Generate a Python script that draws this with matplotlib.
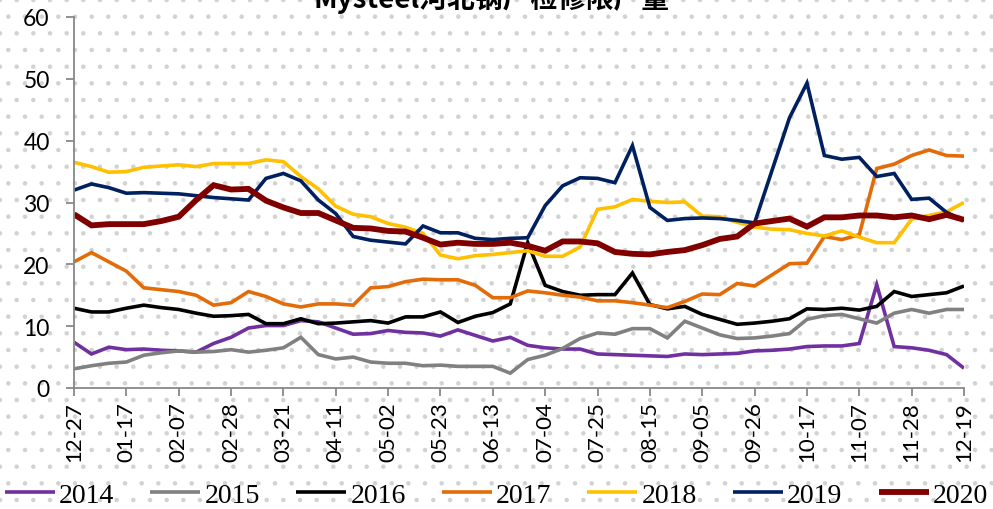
import matplotlib
matplotlib.use("Agg")
import matplotlib.pyplot as plt
import numpy as np

# weekly data, 52 points from 12-27 to 12-19
tick_labels = ["12-27", "01-17", "02-07", "02-28", "03-21", "04-11", "05-02",
               "05-23", "06-13", "07-04", "07-25", "08-15", "09-05", "09-26",
               "10-17", "11-07", "11-28", "12-19"]

y2014 = [7.4, 5.5, 6.6, 6.2, 6.3, 6.1, 6.0, 5.8, 7.2, 8.2, 9.7, 10.1, 10.1,
         10.9, 10.7, 9.7, 8.7, 8.8, 9.3, 9.0, 8.9, 8.4, 9.4, 8.5, 7.6, 8.2,
         6.9, 6.5, 6.3, 6.3, 5.5, 5.4, 5.3, 5.2, 5.1, 5.5, 5.4, 5.5, 5.6,
         6.0, 6.1, 6.3, 6.7, 6.8, 6.8, 7.2, 16.7, 6.7, 6.5, 6.1, 5.4, 3.2]
y2015 = [3.1, 3.6, 4.0, 4.2, 5.3, 5.7, 6.0, 5.8, 5.9, 6.2, 5.8, 6.1, 6.5,
         8.2, 5.4, 4.7, 5.0, 4.2, 4.0, 4.0, 3.6, 3.7, 3.5, 3.5, 3.5, 2.4,
         4.6, 5.3, 6.4, 8.0, 8.9, 8.7, 9.6, 9.6, 8.1, 10.8, 9.7, 8.6, 8.0,
         8.1, 8.4, 8.8, 11.1, 11.7, 11.9, 11.2, 10.5, 12.1, 12.7, 12.1, 12.7, 12.7]
y2016 = [12.9, 12.3, 12.3, 12.9, 13.4, 13.0, 12.7, 12.1, 11.6, 11.7, 11.9,
         10.4, 10.4, 11.2, 10.4, 10.5, 10.7, 10.9, 10.5, 11.5, 11.5, 12.3,
         10.6, 11.6, 12.2, 13.6, 23.5, 16.6, 15.6, 15.0, 15.1, 15.1, 18.6,
         13.5, 12.8, 13.2, 11.9, 11.1, 10.3, 10.5, 10.8, 11.2, 12.8, 12.7,
         12.9, 12.6, 13.2, 15.6, 14.8, 15.1, 15.4, 16.5]
y2017 = [20.4, 21.9, 20.4, 18.9, 16.2, 15.9, 15.6, 15.0, 13.4, 13.8, 15.6,
         14.8, 13.6, 13.1, 13.6, 13.6, 13.4, 16.2, 16.4, 17.2, 17.6, 17.5,
         17.5, 16.6, 14.6, 14.6, 15.7, 15.4, 15.0, 14.7, 14.1, 14.1, 13.8,
         13.4, 13.0, 14.0, 15.2, 15.1, 16.9, 16.5, 18.3, 20.1, 20.2, 24.5,
         24.0, 24.8, 35.5, 36.2, 37.6, 38.5, 37.6, 37.5]
y2018 = [36.5, 35.8, 34.9, 35.0, 35.7, 35.9, 36.1, 35.8, 36.3, 36.3, 36.3,
         36.9, 36.6, 34.2, 32.2, 29.4, 28.1, 27.7, 26.6, 26.0, 25.0, 21.5,
         20.9, 21.4, 21.6, 21.9, 22.2, 21.3, 21.3, 22.8, 28.9, 29.3, 30.5,
         30.2, 30.0, 30.1, 27.8, 27.7, 26.8, 26.0, 25.7, 25.6, 25.0, 24.6,
         25.4, 24.4, 23.5, 23.5, 27.3, 27.9, 28.5, 30.0]
y2019 = [32.0, 33.0, 32.4, 31.5, 31.6, 31.5, 31.4, 31.1, 30.8, 30.6, 30.4,
         33.9, 34.7, 33.5, 30.4, 28.2, 24.5, 23.9, 23.6, 23.3, 26.2, 25.1,
         25.1, 24.2, 24.0, 24.2, 24.3, 29.5, 32.7, 34.0, 33.9, 33.2, 39.2,
         29.2, 27.1, 27.4, 27.5, 27.4, 27.1, 26.7, 35.2, 43.7, 49.3, 37.6,
         37.0, 37.3, 34.2, 34.7, 30.5, 30.7, 28.4, 27.1]
y2020 = [28.1, 26.3, 26.5, 26.5, 26.5, 27.0, 27.7, 30.4, 32.8, 32.1, 32.2,
         30.3, 29.2, 28.3, 28.3, 27.1, 25.9, 25.8, 25.4, 25.3, 24.3, 23.2,
         23.5, 23.3, 23.3, 23.5, 23.0, 22.2, 23.7, 23.7, 23.4, 22.0, 21.7,
         21.6, 22.0, 22.3, 23.1, 24.1, 24.5, 26.6, 27.0, 27.4, 26.1, 27.6,
         27.6, 27.9, 27.9, 27.6, 27.9, 27.3, 28.0, 27.2]

series = [
    ("2014", y2014, "#7030A0", 2.6),
    ("2015", y2015, "#808080", 2.6),
    ("2016", y2016, "#000000", 2.6),
    ("2017", y2017, "#E36C09", 2.6),
    ("2018", y2018, "#FFC000", 2.6),
    ("2019", y2019, "#002060", 2.6),
    ("2020", y2020, "#800000", 4.2),
]

# light dotted background like the original sheet
plt.rcParams["hatch.color"] = "#d2d2d2"
plt.rcParams["hatch.linewidth"] = 0.8

fig = plt.figure(figsize=(9.93, 5.10), dpi=100)
fig.patch.set_facecolor("white")
fig.patch.set_edgecolor("#d2d2d2")
fig.patch.set_linewidth(0)
fig.patch.set_hatch(".")

ax = fig.add_axes([74 / 993, 1 - 389 / 510, 890 / 993, 371 / 510])
ax.set_facecolor("none")

x = np.arange(len(y2014))
for name, vals, color, lw in series:
    ax.plot(x, vals, color=color, linewidth=lw, label=name,
            solid_joinstyle="miter", solid_capstyle="butt")

ax.set_xlim(0, len(x) - 1)
ax.set_ylim(0, 60)
ax.set_yticks(range(0, 61, 10))
ax.set_xticks(x[::3])
ax.set_xticklabels(tick_labels, rotation=90, fontsize=16, family="Lato")
for lab in ax.get_yticklabels():
    lab.set_fontsize(16.5)
    lab.set_family("Lato")

for side in ["top", "right"]:
    ax.spines[side].set_visible(False)
for side in ["left", "bottom"]:
    ax.spines[side].set_color("#888888")
    ax.spines[side].set_linewidth(1.3)
ax.tick_params(axis="both", direction="out", length=5.5, width=1.3,
               color="#888888", labelcolor="black")
ax.tick_params(axis="y", pad=12)
ax.tick_params(axis="x", pad=4)

fig.text(0.495, 1 - 8 / 510, "Mysteel河北钢厂检修限产量", ha="center",
         va="baseline", fontsize=20, fontweight="bold",
         family=["Noto Sans CJK SC", "DejaVu Sans"])

fig.legend(loc="center", bbox_to_anchor=(0.5, 1 - 496 / 510), ncol=7,
           frameon=False, prop={"family": "Liberation Serif", "size": 20},
           handlelength=1.8, handletextpad=0.15, columnspacing=1.3,
           borderaxespad=0, borderpad=0)

fig.savefig("out.png", dpi=100)
